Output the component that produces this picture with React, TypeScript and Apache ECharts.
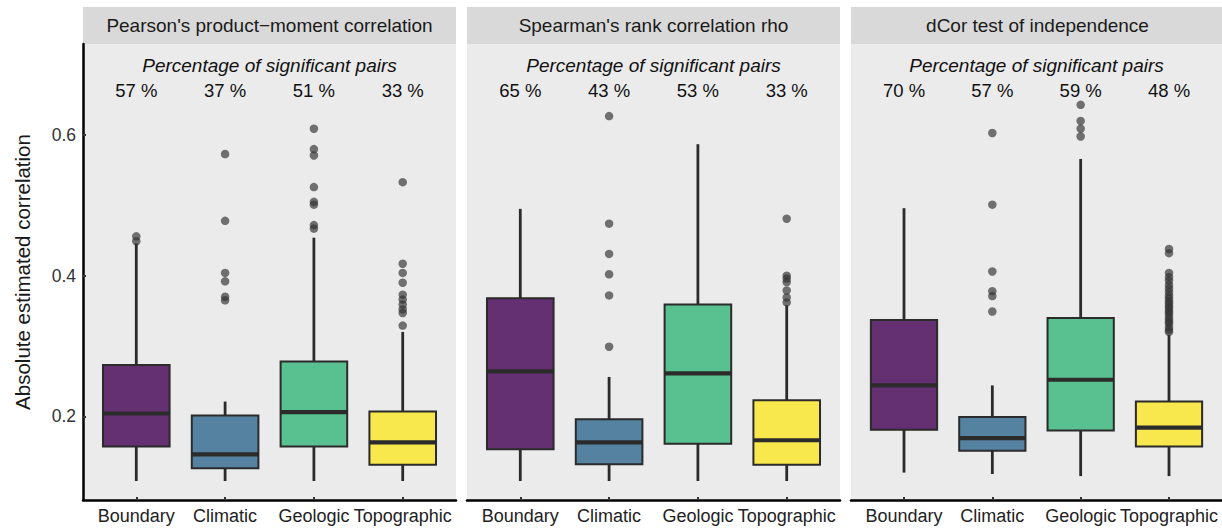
import React, { useEffect, useRef } from "react";
import * as echarts from "echarts";

const categories = ["Boundary", "Climatic", "Geologic", "Topographic"];
const methods = [
  "Pearson's product\u2212moment correlation",
  "Spearman's rank correlation rho",
  "dCor test of independence",
];

// Box summaries per category: [lower whisker, Q1, median, Q3, upper whisker]
const pearsonBoxes = [
  [0.108, 0.157, 0.204, 0.273, 0.446],
  [0.108, 0.126, 0.146, 0.201, 0.221],
  [0.108, 0.157, 0.206, 0.278, 0.454],
  [0.108, 0.131, 0.163, 0.207, 0.32],
];
const spearmanBoxes = [
  [0.108, 0.153, 0.264, 0.368, 0.495],
  [0.108, 0.132, 0.163, 0.196, 0.256],
  [0.108, 0.161, 0.261, 0.359, 0.587],
  [0.108, 0.131, 0.166, 0.223, 0.358],
];
const dcorBoxes = [
  [0.12, 0.181, 0.244, 0.337, 0.496],
  [0.118, 0.151, 0.169, 0.199, 0.244],
  [0.115, 0.18, 0.252, 0.34, 0.566],
  [0.115, 0.157, 0.184, 0.221, 0.316],
];

// Outlying pairs per category
const pearsonOutliers = [
  [0.456, 0.449],
  [0.573, 0.478, 0.404, 0.392, 0.37, 0.365],
  [0.609, 0.58, 0.571, 0.526, 0.505, 0.501, 0.472, 0.467],
  [0.533, 0.417, 0.404, 0.39, 0.373, 0.366, 0.359, 0.352, 0.347, 0.329],
];
const spearmanOutliers = [
  [],
  [0.627, 0.474, 0.431, 0.402, 0.372, 0.299],
  [],
  [0.481, 0.4, 0.396, 0.391, 0.379, 0.369, 0.362],
];
const dcorOutliers = [
  [],
  [0.603, 0.501, 0.406, 0.378, 0.371, 0.349],
  [0.643, 0.62, 0.609, 0.598],
  [
    0.438, 0.432, 0.404, 0.398, 0.393, 0.387, 0.382, 0.377, 0.372, 0.368,
    0.364, 0.361, 0.357, 0.354, 0.35, 0.347, 0.343, 0.339, 0.335, 0.332,
    0.327, 0.323, 0.32,
  ],
];

// Percentage of significant pairs per category
const pearsonSignificant = [57, 37, 51, 33];
const spearmanSignificant = [65, 43, 53, 33];
const dcorSignificant = [70, 57, 59, 48];

const yTicks = [0.2, 0.4, 0.6];

const panels = [
  { title: methods[0], boxes: pearsonBoxes, outliers: pearsonOutliers, pct: pearsonSignificant },
  { title: methods[1], boxes: spearmanBoxes, outliers: spearmanOutliers, pct: spearmanSignificant },
  { title: methods[2], boxes: dcorBoxes, outliers: dcorOutliers, pct: dcorSignificant },
];

const fills = [
  "rgba(68,1,84,0.8)",
  "rgba(49,104,142,0.8)",
  "rgba(53,183,121,0.8)",
  "rgba(253,231,37,0.8)",
];

// Layout
const PANEL_LEFT = 83;
const PANEL_STEP = 384;
const PANEL_W = 373;
const PANEL_TOP = 44;
const PANEL_H = 456;
const STRIP_TOP = 7;
const STRIP_H = 37;
const Y_MIN = 0.081;
const Y_MAX = 0.7295;
const HEADER_LEVEL = 0.6985;
const PCT_LEVEL = 0.663;
const FONT = "'Liberation Sans', Arial, Helvetica, sans-serif";
const INK = "#2b2b2b";

function buildOption() {
  const grid: any[] = [];
  const xAxis: any[] = [];
  const yAxis: any[] = [];
  const series: any[] = [];
  const graphic: any[] = [];

  panels.forEach((panel, p) => {
    const left = PANEL_LEFT + p * PANEL_STEP;
    grid.push({
      left,
      top: PANEL_TOP,
      width: PANEL_W,
      height: PANEL_H,
      show: true,
      backgroundColor: "#EBEBEB",
      borderWidth: 0,
    });
    xAxis.push({
      type: "value",
      gridIndex: p,
      min: -0.6,
      max: 3.6,
      axisLine: { show: true, onZero: false, lineStyle: { color: "#000", width: 2.5 } },
      axisTick: {
        show: true,
        inside: true,
        length: 3,
        customValues: [0, 1, 2, 3],
        lineStyle: { color: "#333", width: 2 },
      },
      axisLabel: {
        show: true,
        customValues: [0, 1, 2, 3],
        formatter: (v: number) => categories[Math.round(v)] ?? "",
        color: "#222",
        fontSize: 18,
        fontFamily: FONT,
        margin: 7,
      },
      splitLine: { show: false },
    });
    const first = p === 0;
    yAxis.push({
      type: "value",
      gridIndex: p,
      min: Y_MIN,
      max: Y_MAX,
      axisLine: { show: first, onZero: false, lineStyle: { color: "#000", width: 2.5 } },
      axisTick: {
        show: first,
        inside: true,
        length: 3,
        customValues: yTicks,
        lineStyle: { color: "#333", width: 2 },
      },
      axisLabel: {
        show: first,
        customValues: yTicks,
        formatter: (v: number) => v.toFixed(1),
        color: "#333",
        fontSize: 17.5,
        fontFamily: FONT,
        margin: 7,
      },
      splitLine: { show: false },
    });

    // Boxes with whiskers and median bars
    series.push({
      type: "custom",
      xAxisIndex: p,
      yAxisIndex: p,
      data: panel.boxes.map((b, i) => [i, ...b]),
      renderItem: (params: any, api: any) => {
        const x = api.value(0);
        const pLo = api.coord([x, api.value(1)]);
        const pQ1 = api.coord([x, api.value(2)]);
        const pMed = api.coord([x, api.value(3)]);
        const pQ3 = api.coord([x, api.value(4)]);
        const pHi = api.coord([x, api.value(5)]);
        const w = api.size([0.75, 0])[0];
        const bx = pQ1[0] - w / 2;
        return {
          type: "group",
          children: [
            {
              type: "line",
              shape: { x1: pLo[0], y1: pLo[1], x2: pQ1[0], y2: pQ1[1] },
              style: { stroke: INK, lineWidth: 2.8 },
            },
            {
              type: "line",
              shape: { x1: pQ3[0], y1: pQ3[1], x2: pHi[0], y2: pHi[1] },
              style: { stroke: INK, lineWidth: 2.8 },
            },
            {
              type: "rect",
              shape: { x: bx, y: pQ3[1], width: w, height: pQ1[1] - pQ3[1] },
              style: { fill: fills[params.dataIndex], stroke: INK, lineWidth: 2 },
            },
            {
              type: "line",
              shape: { x1: bx, y1: pMed[1], x2: bx + w, y2: pMed[1] },
              style: { stroke: INK, lineWidth: 4.2 },
            },
          ],
        };
      },
      z: 2,
    });

    // Outliers
    const pts: number[][] = [];
    panel.outliers.forEach((vals, i) => vals.forEach((v) => pts.push([i, v])));
    series.push({
      type: "scatter",
      xAxisIndex: p,
      yAxisIndex: p,
      data: pts,
      symbol: "circle",
      symbolSize: 8.5,
      itemStyle: { color: "rgba(52,52,52,0.85)" },
      z: 3,
    });

    // Header and percentage annotations
    series.push({
      type: "custom",
      xAxisIndex: p,
      yAxisIndex: p,
      data: [[1.5, HEADER_LEVEL]],
      renderItem: (params: any, api: any) => {
        const pt = api.coord([api.value(0), api.value(1)]);
        return {
          type: "text",
          x: pt[0],
          y: pt[1],
          style: {
            text: "Percentage of significant pairs",
            fontSize: 19,
            fontStyle: "italic",
            fontFamily: FONT,
            fill: "#111",
            align: "center",
            verticalAlign: "middle",
          },
        };
      },
      z: 4,
    });
    series.push({
      type: "custom",
      xAxisIndex: p,
      yAxisIndex: p,
      data: panel.pct.map((_, i) => [i, PCT_LEVEL]),
      renderItem: (params: any, api: any) => {
        const pt = api.coord([api.value(0), api.value(1)]);
        return {
          type: "text",
          x: pt[0],
          y: pt[1],
          style: {
            text: panel.pct[params.dataIndex] + " %",
            fontSize: 18.5,
            fontFamily: FONT,
            fill: "#111",
            align: "center",
            verticalAlign: "middle",
          },
        };
      },
      z: 4,
    });

    // Facet strip
    graphic.push({
      type: "rect",
      shape: { x: left, y: STRIP_TOP, width: PANEL_W, height: STRIP_H },
      style: { fill: "#D9D9D9" },
      silent: true,
    });
    graphic.push({
      type: "text",
      x: left + PANEL_W / 2,
      y: STRIP_TOP + STRIP_H / 2,
      style: {
        text: panel.title,
        fontSize: 19,
        fontFamily: FONT,
        fill: "#1a1a1a",
        align: "center",
        verticalAlign: "middle",
      },
      silent: true,
    });
  });

  graphic.push({
    type: "text",
    x: 22,
    y: PANEL_TOP + PANEL_H / 2,
    rotation: Math.PI / 2,
    style: {
      text: "Absolute estimated correlation",
      fontSize: 20.5,
      fontFamily: FONT,
      fill: "#1a1a1a",
      align: "center",
      verticalAlign: "middle",
    },
    silent: true,
  });

  return {
    animation: false,
    backgroundColor: "#ffffff",
    grid,
    xAxis,
    yAxis,
    series,
    graphic,
  };
}

export default function App() {
  const ref = useRef<HTMLDivElement>(null);
  useEffect(() => {
    if (!ref.current) return;
    const chart = echarts.init(ref.current, undefined, { renderer: "svg" });
    chart.setOption(buildOption() as any);
    return () => chart.dispose();
  }, []);
  return (
    <div
      ref={ref}
      style={{ position: "fixed", left: 0, top: 0, width: 1222, height: 529, background: "#fff" }}
    />
  );
}
